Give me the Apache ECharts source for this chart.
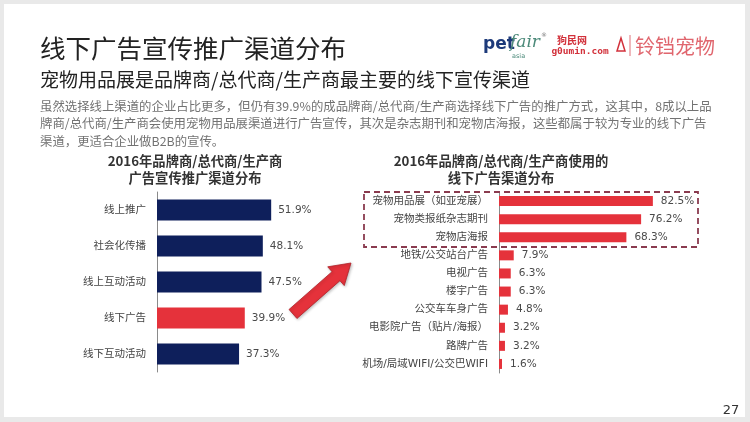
<!DOCTYPE html>
<html><head><meta charset="utf-8">
<script src="https://cdn.jsdelivr.net/npm/echarts@6/dist/echarts.min.js"></script>
<style>html,body{margin:0;padding:0;background:#e9e9e9}#c{width:750px;height:422px}</style>
</head><body><div id="c"></div>
<script>
const mainTitle = '线下广告宣传推广渠道分布';
const subTitle = '宠物用品展是品牌商/总代商/生产商最主要的线下宣传渠道';
const paragraph = [
  '虽然选择线上渠道的企业占比更多，但仍有39.9%的成品牌商/总代商/生产商选择线下广告的推广方式，这其中，8成以上品',
  '牌商/总代商/生产商会使用宠物用品展渠道进行广告宣传，其次是杂志期刊和宠物店海报，这些都属于较为专业的线下广告',
  '渠道，更适合企业做B2B的宣传。'
];
const leftTitle = ['2016年品牌商/总代商/生产商', '广告宣传推广渠道分布'];
const leftCats = ['线上推广', '社会化传播', '线上互动活动', '线下广告', '线下互动活动'];
const leftVals = [51.9, 48.1, 47.5, 39.9, 37.3];
const leftHighlight = '线下广告';
const rightTitle = ['2016年品牌商/总代商/生产商使用的', '线下广告渠道分布'];
const rightCats = ['宠物用品展（如亚宠展）', '宠物类报纸杂志期刊', '宠物店海报', '地铁/公交站台广告', '电视广告', '楼宇广告', '公交车车身广告', '电影院广告（贴片/海报）', '路牌广告', '机场/局域WIFI/公交巴WIFI'];
const rightVals = [82.5, 76.2, 68.3, 7.9, 6.3, 6.3, 4.8, 3.2, 3.2, 1.6];
const pageNo = '27';

const NAVY = '#0e1f5b', RED = '#e5323b';
const CJK = "'Noto Sans CJK SC', sans-serif";
const VALF = "'DejaVu Sans', 'Noto Sans CJK SC', sans-serif";

const chart = echarts.init(document.getElementById('c'), null, {renderer: 'canvas'});

function txt(text, x, y, font, fill, align, extra) {
  return Object.assign({type: 'text', silent: true, style: {text, x, y, font, fill, textAlign: align || 'left', textVerticalAlign: 'middle'}}, extra || {});
}

// arrow decoration
function arrowPoints(tx, ty, px, py, sw, hw, hl) {
  const dx = px - tx, dy = py - ty, L = Math.hypot(dx, dy);
  const ux = dx / L, uy = dy / L, nx = -uy, ny = ux;
  const bx = px - ux * hl, by = py - uy * hl;
  return [
    [tx + nx * sw, ty + ny * sw], [bx + nx * sw, by + ny * sw], [bx + nx * hw, by + ny * hw],
    [px, py], [bx - nx * hw, by - ny * hw], [bx - nx * sw, by - ny * sw], [tx - nx * sw, ty - ny * sw]
  ];
}

const graphics = [
  {type: 'rect', silent: true, z: -10, shape: {x: 4, y: 4, width: 741, height: 413}, style: {fill: '#ffffff'}},
  txt(mainTitle, 40, 48, `25.5px ${CJK}`, '#222'),
  txt(subTitle, 40, 80, `19px ${CJK}`, '#222'),
  txt(pageNo, 731, 411, `13px ${VALF}`, '#333', 'center'),
  txt(leftTitle[0], 195, 161, `bold 13.3px ${CJK}`, '#333', 'center'),
  txt(leftTitle[1], 195, 178, `bold 13.3px ${CJK}`, '#333', 'center'),
  txt(rightTitle[0], 501, 161, `bold 13.3px ${CJK}`, '#333', 'center'),
  txt(rightTitle[1], 501, 178, `bold 13.3px ${CJK}`, '#333', 'center'),
  // logos
  txt('pet', 483, 45, `bold 17px 'DejaVu Sans', sans-serif`, '#1d3a7a'),
  txt('fair', 510, 43, `italic 17px 'DejaVu Serif', serif`, '#4c8a7a'),
  txt('asia', 512, 56, `6.5px 'DejaVu Sans', sans-serif`, '#4c8a7a'),
  txt('®', 541, 35, `6px 'DejaVu Sans', sans-serif`, '#777'),
  txt('狗民网', 572, 40, `bold 10px ${CJK}`, '#d2313b', 'center'),
  txt('g0umin.com', 580, 52, `bold 9.5px 'DejaVu Sans Mono', monospace`, '#d2313b', 'center'),
  {type: 'polygon', silent: true, shape: {points: [[621, 38], [617, 51], [625, 51]]}, style: {fill: 'none', stroke: '#d2313b', lineWidth: 1.5}},
  {type: 'line', silent: true, shape: {x1: 630, y1: 35, x2: 630, y2: 56}, style: {stroke: '#e07078', lineWidth: 1}},
  txt('铃铛宠物', 635, 46, `20px ${CJK}`, '#e0666e'),
  // dashed box
  {type: 'rect', silent: true, z: 10, shape: {x: 364, y: 192, width: 334, height: 55}, style: {fill: 'none', stroke: '#8a3b4f', lineWidth: 1.8, lineDash: [6, 4]}},
  // arrow
  {type: 'polygon', silent: true, z: 10, shape: {points: arrowPoints(293, 314, 351, 263, 6, 12.5, 20)}, style: {fill: RED, stroke: '#b0222a', lineWidth: 0.8, shadowBlur: 3, shadowColor: 'rgba(0,0,0,0.25)', shadowOffsetX: 1, shadowOffsetY: 1}}
];
paragraph.forEach((l, i) => graphics.push(txt(l, 40, 106 + i * 17.5, `12.4px ${CJK}`, '#727272')));

const catAxis = (gi, data, fs) => ({
  gridIndex: gi, type: 'category', data, inverse: true,
  axisLine: {show: true, lineStyle: {color: '#8a8a8a', width: 1}},
  axisTick: {show: false}, splitLine: {show: false},
  axisLabel: {margin: 11, fontSize: fs, color: '#444', fontFamily: VALF}
});
const valAxis = gi => ({gridIndex: gi, type: 'value', min: 0, max: 100, show: false});

chart.setOption({
  backgroundColor: '#e9e9e9',
  animation: false,
  grid: [
    {left: 157, top: 192, width: 220, height: 180},
    {left: 499, top: 192, width: 186.5, height: 181}
  ],
  xAxis: [valAxis(0), valAxis(1)],
  yAxis: [catAxis(0, leftCats, 10.5), catAxis(1, rightCats, 10.5)],
  graphic: graphics,
  series: [
    {
      type: 'bar', xAxisIndex: 0, yAxisIndex: 0, barWidth: 21,
      data: leftVals.map((v, i) => ({value: v, itemStyle: {color: leftCats[i] === leftHighlight ? RED : NAVY}})),
      label: {show: true, position: 'right', distance: 7, formatter: p => p.value.toFixed(1) + '%', fontSize: 10.5, color: '#4a4a4a', fontFamily: VALF}
    },
    {
      type: 'bar', xAxisIndex: 1, yAxisIndex: 1, barWidth: 10,
      data: rightVals, itemStyle: {color: RED},
      label: {show: true, position: 'right', distance: 8, formatter: p => p.value.toFixed(1) + '%', fontSize: 10.5, color: '#4a4a4a', fontFamily: VALF}
    }
  ]
});
</script></body></html>
